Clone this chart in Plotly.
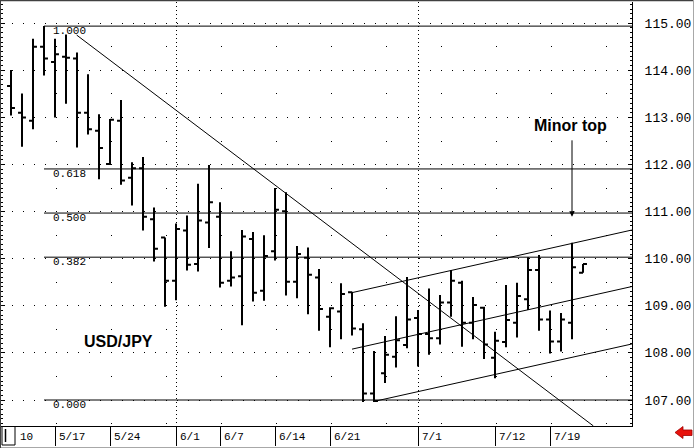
import plotly.graph_objects as go

# ---------------- data (USD/JPY daily bars, trading-day index 1 = 5/11) ----------------
day = list(range(1, 54))
open_ = [113.67, 113.10, 112.93, 114.50, 114.18, 114.29, 114.25, 113.10, 112.72, 112.01,
         112.93, 111.72, 111.92, 110.84, 110.45, 109.53, 110.60, 109.89, 110.77, 110.89,
         109.53, 109.63, 110.42, 109.32, 110.16, 111.01, 109.51, 110.02, 109.60, 108.77,
         108.88, 109.29, 108.50, 107.14, 107.57, 107.92, 108.17, 108.74, 108.40, 108.31,
         109.07, 109.49, 108.64, 108.96, 107.90, 108.23, 108.64, 109.14, 109.76, 108.71,
         108.24, 108.64, 109.70]
high = [114.01, 113.51, 114.67, 114.94, 114.67, 114.76, 114.38, 113.92, 113.07, 112.97,
        113.37, 112.05, 112.16, 111.09, 110.45, 110.75, 110.92, 111.59, 111.99, 111.20,
        110.16, 110.61, 110.57, 110.50, 111.50, 111.41, 110.27, 110.24, 109.78, 108.97,
        109.48, 109.30, 108.63, 108.04, 108.36, 108.78, 109.61, 108.91, 109.37, 109.23,
        109.76, 109.53, 109.19, 108.98, 108.45, 109.44, 109.49, 110.03, 110.08, 108.90,
        108.85, 110.34, 109.89]
low = [113.04, 112.38, 112.75, 113.89, 113.00, 113.29, 112.36, 112.64, 111.69, 111.99,
       111.57, 111.13, 110.60, 109.94, 108.98, 109.12, 109.75, 109.73, 110.23, 109.39,
       109.41, 108.59, 109.09, 109.11, 109.96, 109.22, 109.16, 108.82, 108.47, 108.12,
       108.29, 108.37, 106.96, 106.96, 107.36, 107.69, 108.10, 107.71, 107.96, 108.18,
       108.77, 108.13, 108.29, 107.87, 107.46, 108.12, 108.33, 108.91, 108.47, 107.99,
       108.03, 108.29, 109.70]
close = [113.20, 113.00, 114.50, 114.25, 114.34, 114.27, 113.10, 112.75, 112.35, 112.95,
         111.66, 111.92, 110.89, 110.21, 109.53, 110.63, 109.87, 110.81, 111.20, 109.49,
         109.60, 110.47, 109.28, 110.06, 111.04, 109.51, 110.10, 109.66, 108.93, 108.95,
         109.25, 108.52, 107.14, 106.98, 107.96, 108.27, 108.71, 108.40, 108.31, 109.07,
         109.53, 108.64, 109.02, 108.18, 108.26, 108.70, 109.21, 109.76, 108.71, 108.24,
         108.71, 109.82, 109.89]

tick_days = [5, 10, 16, 20, 25, 30, 38, 45, 50]
tick_text = ["5/17", "5/24", "6/1", "6/7", "6/14", "6/21", "7/1", "7/12", "7/19"]
month_days = [16, 38]

# Fibonacci retracement (high 5/14 -> low 6/24)
fib_high = 114.94
fib_low = 107.00
fib_start_day = 4
fib_ratios = [1.000, 0.618, 0.500, 0.382, 0.000]
fib_names = ["1.000", "0.618", "0.500", "0.382", "0.000"]

# trend lines: (day0, price0, day1, price1)
down_trend = (6.97, 114.75, 53.94, 106.45)
channel_upper = (32.0, 109.28, 57.45, 110.61)
channel_mid = (32.0, 108.08, 57.45, 109.41)
channel_lower = (34.2, 106.98, 57.45, 108.19)

minor_top_day = 52
minor_top_tip = 110.89

# ---------------- geometry ----------------
W, H = 694, 448
ML, MR, MT, MB = 1, 62, 2, 22
PW, PH = W - ML - MR, H - MT - MB
X0, X1 = 0.0909, 57.455
Y0, Y1 = 106.448, 115.452


def pxx(px):
    return (px - ML) / PW


def pxy(py):
    return (H - MB - py) / PH


fig = go.Figure()
# invisible carrier for the overlay grid axes
fig.add_trace(go.Scatter(x=[None], y=[None], xaxis="x2", yaxis="y2", mode="markers",
                         hoverinfo="skip", showlegend=False))
fig.add_trace(go.Ohlc(
    x=day, open=open_, high=high, low=low, close=close,
    increasing=dict(line=dict(color="black", width=2)),
    decreasing=dict(line=dict(color="black", width=2)),
    tickwidth=0.36, hoverinfo="skip", showlegend=False,
))

shapes = []
# fib lines
fib_levels = [fib_low + r * (fib_high - fib_low) for r in fib_ratios]
for lev in fib_levels:
    shapes.append(dict(type="line", xref="x", yref="y", x0=fib_start_day, x1=X1,
                       y0=lev, y1=lev, line=dict(color="black", width=1)))

for (a, b, c, d) in [down_trend, channel_upper, channel_mid, channel_lower]:
    shapes.append(dict(type="line", xref="x", yref="y", x0=a, y0=b, x1=c, y1=d,
                       line=dict(color="black", width=1)))

# window frame
shapes.append(dict(type="line", xref="paper", yref="paper", x0=pxx(0), x1=pxx(W),
                   y0=pxy(0.6), y1=pxy(0.6), line=dict(color="#404040", width=1.5)))
shapes.append(dict(type="line", xref="paper", yref="paper", x0=pxx(0), x1=pxx(W),
                   y0=pxy(447.5), y1=pxy(447.5), line=dict(color="#a8a8a8", width=1)))
shapes.append(dict(type="line", xref="paper", yref="paper", x0=pxx(693.5), x1=pxx(693.5),
                   y0=pxy(0), y1=pxy(H), line=dict(color="#a8a8a8", width=1)))
shapes.append(dict(type="line", xref="paper", yref="paper", x0=pxx(0.5), x1=pxx(0.5),
                   y0=pxy(0), y1=pxy(H), line=dict(color="#404040", width=1)))
# small box at the left of the date band
shapes.append(dict(type="rect", xref="paper", yref="paper", x0=pxx(2), x1=pxx(15),
                   y0=pxy(445), y1=pxy(426.5), line=dict(color="black", width=1)))
shapes.append(dict(type="line", xref="paper", yref="paper", x0=pxx(5.5), x1=pxx(5.5),
                   y0=pxy(442), y1=pxy(429), line=dict(color="black", width=1.5)))

# red back arrow, bottom right
pts = [(675, 432.5), (683, 426.5), (683, 430), (692, 430), (692, 435.5), (683, 435.5), (683, 438.5)]
path = "M " + " L ".join(f"{pxx(x):.5f},{pxy(y):.5f}" for x, y in pts) + " Z"
shapes.append(dict(type="path", xref="paper", yref="paper", path=path,
                   fillcolor="#e8120c", line=dict(color="#a00000", width=0.8)))

annotations = []
for lev, name in zip(fib_levels, fib_names):
    annotations.append(dict(x=fib_start_day, y=lev, xref="x", yref="y", text=name,
                            showarrow=False, xanchor="left", yanchor="middle",
                            xshift=7, yshift=-5,
                            font=dict(family="Liberation Mono", size=11, color="black")))
for d, t in zip(tick_days, tick_text):
    annotations.append(dict(x=d, y=pxy(437), xref="x", yref="paper", text=t,
                            showarrow=False, xanchor="left", yanchor="middle", xshift=2,
                            font=dict(family="Liberation Mono", size=11, color="black")))
annotations.append(dict(x=pxx(18), y=pxy(437), xref="paper", yref="paper", text="10",
                        showarrow=False, xanchor="left", yanchor="middle",
                        font=dict(family="Liberation Mono", size=11, color="black")))
annotations.append(dict(x=10.77, y=108.24, xref="x", yref="y", text="<b>USD/JPY</b>",
                        showarrow=False, xanchor="center", yanchor="middle",
                        font=dict(family="Liberation Sans", size=16, color="black")))
annotations.append(dict(x=minor_top_day, y=112.82, xref="x", yref="y", text="<b>Minor top</b>",
                        showarrow=False, xanchor="center", yanchor="middle", xshift=-2,
                        font=dict(family="Liberation Sans", size=16, color="black")))
annotations.append(dict(x=minor_top_day, y=minor_top_tip, xref="x", yref="y", text="",
                        showarrow=True, ax=0, ay=-78, arrowhead=2, arrowsize=1.1,
                        arrowwidth=1, arrowcolor="black", standoff=0))

fig.update_layout(
    width=W, height=H,
    margin=dict(l=ML, r=MR, t=MT, b=MB, pad=0),
    paper_bgcolor="white", plot_bgcolor="white",
    showlegend=False, shapes=shapes, annotations=annotations,
    font=dict(family="Liberation Mono", color="black"),
    xaxis=dict(range=[X0, X1], rangeslider=dict(visible=False), showgrid=False, zeroline=False,
               showline=True, linecolor="black", linewidth=1,
               ticks="outside", ticklen=19, tickcolor="black", tickwidth=1,
               tickvals=tick_days, showticklabels=False, fixedrange=True),
    yaxis=dict(side="right", range=[Y0, Y1], zeroline=False,
               showgrid=True, gridcolor="black", gridwidth=1, griddash="1px,10px",
               showline=True, linecolor="black", linewidth=1, mirror="ticks",
               ticks="inside", ticklen=4, tickcolor="black", tickwidth=1,
               tick0=107, dtick=1, tickformat=".2f",
               tickfont=dict(family="Liberation Mono", size=13, color="black"),
               ticklabelstandoff=9,
               minor=dict(dtick=0.1, ticks="inside", ticklen=2, tickcolor="black", showgrid=False),
               fixedrange=True),
    xaxis2=dict(overlaying="x", range=[X0, X1], tickvals=month_days, showgrid=True,
                gridcolor="black", gridwidth=1, griddash="1px,3px", ticks="",
                showticklabels=False, showline=False, zeroline=False, fixedrange=True),
    yaxis2=dict(overlaying="y", side="right", range=[Y0, Y1], tick0=0.5, dtick=1,
                showgrid=True, gridcolor="black", gridwidth=1, griddash="1px,54px",
                ticks="", showticklabels=False, showline=False, zeroline=False,
                fixedrange=True),
)

fig.write_html(
    "out.html",
    config={"displayModeBar": False, "staticPlot": True},
    post_script="document.body.style.margin='0';document.body.style.overflow='hidden';",
)
